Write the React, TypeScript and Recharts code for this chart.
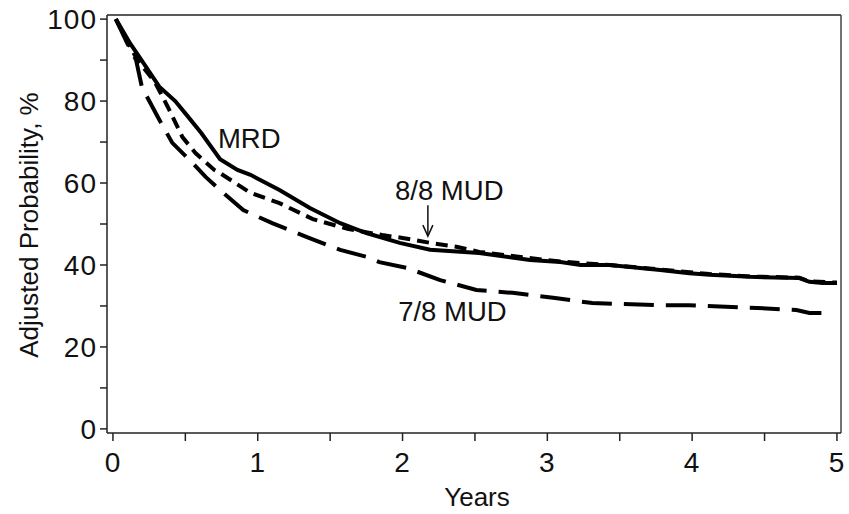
import { LineChart, Line, XAxis, YAxis, ReferenceLine, ReferenceDot, Label } from "recharts";

// adjusted survival curves (years, %)
const mrdYears = [0.02, 0.12, 0.21, 0.32, 0.43, 0.5, 0.61, 0.74, 0.86, 0.95, 1.15, 1.36, 1.57, 1.75, 1.98, 2.19, 2.53, 2.88, 3.09, 3.23, 3.43, 3.78, 3.98, 4.12, 4.4, 4.74, 4.81, 4.9, 5.0];
const mrdProb = [100, 94, 89.3, 83.5, 80, 77, 72.2, 65.8, 63.2, 62, 58.3, 53.9, 50.2, 47.8, 45.4, 43.7, 42.9, 41.2, 40.7, 40.0, 40.0, 38.8, 38.0, 37.6, 37.1, 36.8, 35.9, 35.6, 35.6];

const mud88Years = [0.02, 0.1, 0.17, 0.29, 0.38, 0.48, 0.57, 0.7, 0.74, 0.95, 1.15, 1.38, 1.62, 1.86, 2.0, 2.19, 2.38, 2.53, 2.8, 3.1, 3.43, 3.78, 4.12, 4.4, 4.74, 4.81, 5.0];
const mud88Prob = [100, 94.5, 90, 84.6, 78.5, 71.2, 67.3, 63.2, 62.4, 57.6, 55.1, 51.2, 48.8, 47.3, 46.6, 45.4, 44.4, 43.2, 42, 40.8, 40.0, 38.9, 37.8, 37.2, 36.9, 36.0, 35.7];

const mud78Years = [0.02, 0.1, 0.16, 0.2, 0.31, 0.41, 0.55, 0.64, 0.74, 0.9, 1.1, 1.34, 1.57, 1.75, 1.84, 2.03, 2.26, 2.51, 2.76, 3.04, 3.31, 3.78, 3.98, 4.45, 4.72, 4.81, 4.97];
const mud78Prob = [100, 94, 90, 83.4, 76.1, 69.8, 64.9, 61.5, 58.3, 53.4, 50.2, 46.8, 43.7, 42, 40.7, 39.3, 36.3, 33.9, 33.2, 32.0, 30.7, 30.2, 30.2, 29.5, 29.0, 28.3, 28.3];

const xTicks = [0, 0.5, 1, 1.5, 2, 2.5, 3, 3.5, 4, 4.5, 5];
const yTicks = [0, 10, 20, 30, 40, 50, 60, 70, 80, 90, 100];

const toPoints = (years: number[], prob: number[]) => years.map((t, i) => ({ t, p: prob[i] }));

const FONT = "'Liberation Sans', Arial, sans-serif";
const X_MIN = -0.041;
const X_MAX = 5.028;
const Y_MIN = -1;
const Y_MAX = 101;

const annoText = (label: string) => (props: any) => (
  <text x={props.cx} y={props.cy} fontSize={27.5} fontFamily={FONT} fill="#111">
    {label}
  </text>
);

const Arrow = (props: any) => {
  const { cx, cy } = props;
  return (
    <g stroke="#111" strokeWidth={1.5} fill="none">
      <line x1={cx} y1={cy} x2={cx} y2={cy + 30} />
      <polyline points={`${cx - 5},${cy + 20} ${cx},${cy + 31} ${cx + 5},${cy + 20}`} />
    </g>
  );
};

const tickStyle = { fontSize: 28, fontFamily: FONT, fill: "#111", letterSpacing: 1 };

export default function App() {
  return (
    <div style={{ position: "absolute", left: 0, top: 0, background: "#fff" }}>
      <LineChart width={849} height={514} margin={{ top: 15, right: 8, bottom: 0, left: 0 }}>
        <XAxis
          type="number"
          dataKey="t"
          domain={[X_MIN, X_MAX]}
          ticks={xTicks}
          allowDataOverflow
          height={81}
          tickSize={8}
          tickMargin={11}
          tickFormatter={(v: number) => (Number.isInteger(v) ? String(v) : "")}
          tick={tickStyle}
          stroke="#222"
          strokeWidth={1.5}
        >
          <Label
            content={() => (
              <text x={477} y={506} textAnchor="middle" fontSize={26} fontFamily={FONT} fill="#111">
                Years
              </text>
            )}
          />
        </XAxis>
        <YAxis
          type="number"
          domain={[Y_MIN, Y_MAX]}
          ticks={yTicks}
          allowDataOverflow
          width={107}
          tickSize={7}
          tickMargin={3}
          tickFormatter={(v: number) => (v % 20 === 0 ? String(v) : "")}
          tick={tickStyle}
          stroke="#222"
          strokeWidth={1.5}
        >
          <Label
            content={() => (
              <text
                x={38}
                y={225}
                transform="rotate(-90 38 225)"
                textAnchor="middle"
                fontSize={26}
                fontFamily={FONT}
                fill="#111"
              >
                Adjusted Probability, %
              </text>
            )}
          />
        </YAxis>
        <ReferenceLine y={Y_MAX} stroke="#222" strokeWidth={1.5} />
        <ReferenceLine x={X_MAX} stroke="#444" strokeWidth={1.5} />

        <Line
          data={toPoints(mrdYears, mrdProb)}
          dataKey="p"
          type="linear"
          stroke="#000"
          strokeWidth={4}
          dot={false}
          isAnimationActive={false}
        />
        <Line
          data={toPoints(mud88Years, mud88Prob)}
          dataKey="p"
          type="linear"
          stroke="#000"
          strokeWidth={4}
          strokeDasharray="12 7"
          dot={false}
          isAnimationActive={false}
        />
        <Line
          data={toPoints(mud78Years, mud78Prob)}
          dataKey="p"
          type="linear"
          stroke="#000"
          strokeWidth={4}
          strokeDasharray="30 12"
          dot={false}
          isAnimationActive={false}
        />

        <ReferenceDot x={0.725} y={68.5} r={0} shape={annoText("MRD")} />
        <ReferenceDot x={1.948} y={55.9} r={0} shape={annoText("8/8 MUD")} />
        <ReferenceDot x={2.175} y={54.6} r={0} shape={Arrow} />
        <ReferenceDot x={1.97} y={26.3} r={0} shape={annoText("7/8 MUD")} />
      </LineChart>
    </div>
  );
}
